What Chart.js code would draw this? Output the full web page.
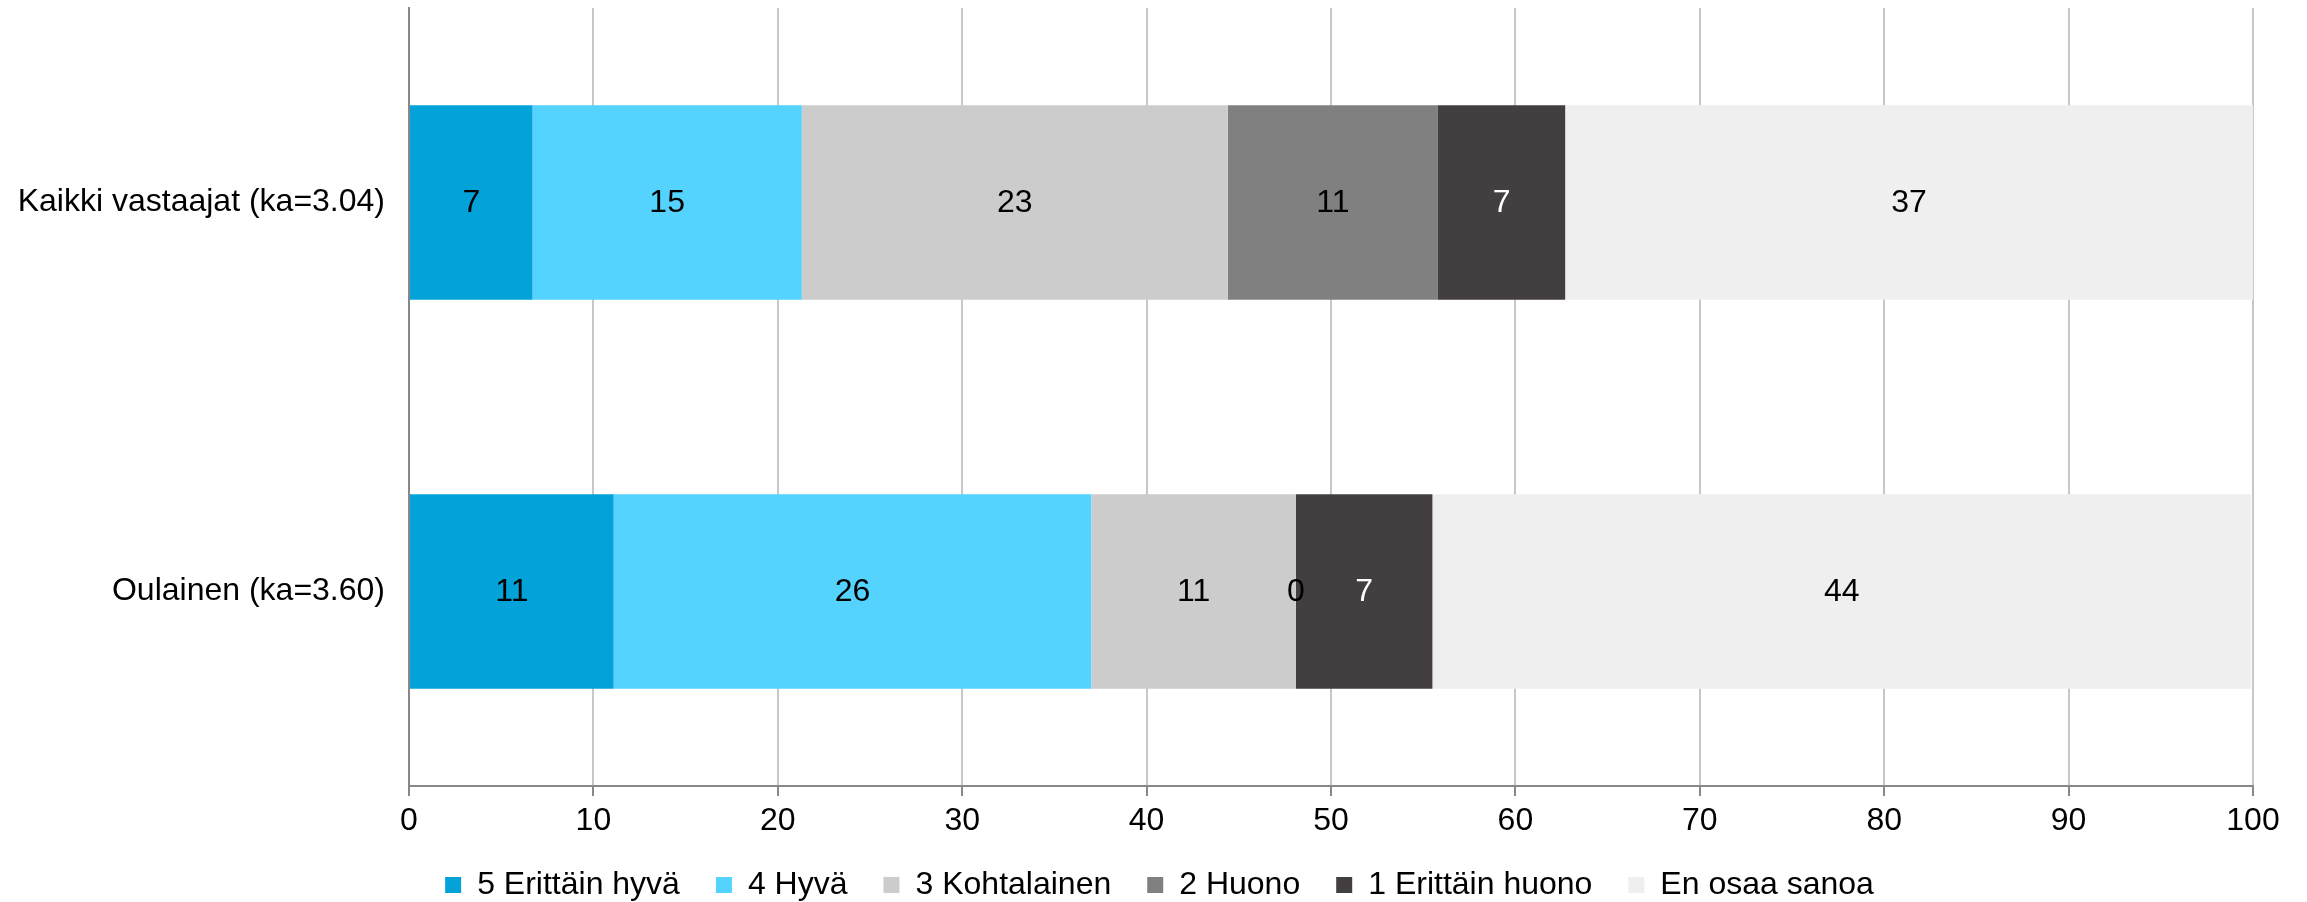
<!DOCTYPE html>
<html>
<head>
<meta charset="utf-8">
<script src="https://cdn.jsdelivr.net/npm/chart.js@4/dist/chart.umd.min.js"></script>
<style>
  html, body { margin: 0; padding: 0; background: #fff; overflow: hidden; }
  #wrap { width: 2307px; height: 911px; }
</style>
</head>
<body>
<div id="wrap"><canvas id="barChart"></canvas></div>
<script>
// rows (top to bottom)
const categories = ["Kaikki vastaajat (ka=3.04)", "Oulainen (ka=3.60)"];

// answer shares in %
const erittainHyva = [6.7, 11.1];
const hyva = [14.6, 25.9];
const kohtalainen = [23.1, 11.1];
const huono = [11.4, 0];
const erittainHuono = [6.9, 7.4];
const enOsaa = [37.3, 44.4];

const seriesNames = ["5 Erittäin hyvä", "4 Hyvä", "3 Kohtalainen", "2 Huono", "1 Erittäin huono", "En osaa sanoa"];
const seriesValues = [erittainHyva, hyva, kohtalainen, huono, erittainHuono, enOsaa];
const seriesColors = ["#03a3d9", "#55d3ff", "#cccccc", "#808080", "#433f40", "#efefef"];
const labelColors = ["#000", "#000", "#000", "#000", "#fff", "#000"];

const xTicks = [0, 10, 20, 30, 40, 50, 60, 70, 80, 90, 100];

Chart.defaults.font.family = "'Liberation Sans', Arial, sans-serif";
Chart.defaults.font.size = 32;
Chart.defaults.color = "#000";

// value labels centered in each segment
const segmentLabels = {
    id: "segmentLabels",
    afterDatasetsDraw(chart) {
        const ctx = chart.ctx;
        ctx.save();
        ctx.font = "32px 'Liberation Sans', Arial, sans-serif";
        ctx.textAlign = "center";
        ctx.textBaseline = "middle";
        chart.data.datasets.forEach((ds, i) => {
            const meta = chart.getDatasetMeta(i);
            meta.data.forEach((bar, j) => {
                const v = ds.data[j];
                ctx.fillStyle = labelColors[i];
                ctx.fillText(String(Math.round(v)), (bar.x + bar.base) / 2, bar.y + 1);
            });
        });
        ctx.restore();
    }
};

// legend in the original sits a bit right of the canvas center
const legendShift = {
    id: "legendShift",
    afterLayout(chart) {
        chart.legend.left += 33;
        chart.legend.right += 33;
    }
};

new Chart(document.getElementById("barChart"), {
    type: "bar",
    data: {
        labels: categories,
        datasets: seriesNames.map((name, i) => ({
            label: name,
            data: seriesValues[i],
            backgroundColor: seriesColors[i],
            categoryPercentage: 1,
            barPercentage: 0.5
        }))
    },
    options: {
        indexAxis: "y",
        responsive: true,
        maintainAspectRatio: false,
        animation: false,
        layout: {
            padding: { top: 8, right: 54, left: 0, bottom: 0 }
        },
        plugins: {
            legend: {
                position: "bottom",
                labels: {
                    boxWidth: 16,
                    boxHeight: 16,
                    padding: 36,
                    font: { size: 32 }
                }
            },
            tooltip: { enabled: false }
        },
        scales: {
            x: {
                stacked: true,
                min: 0,
                max: 100,
                afterBuildTicks: s => { s.ticks = xTicks.map(v => ({ value: v })); },
                afterFit: s => { s.height = 47; },
                grid: {
                    color: "#c8c8c8",
                    lineWidth: 2,
                    tickColor: "#888",
                    tickLength: 10
                },
                border: { color: "#888", width: 2 },
                ticks: { padding: 6, font: { size: 32 } }
            },
            y: {
                stacked: true,
                afterFit: s => {
                    s.width = 409;
                    s.paddingTop = 0;
                    s.paddingBottom = 0;
                },
                grid: { display: false, tickLength: 24 },
                border: { color: "#888", width: 2 },
                ticks: { padding: 0, font: { size: 32 } }
            }
        }
    },
    plugins: [segmentLabels, legendShift]
});
</script>
</body>
</html>
